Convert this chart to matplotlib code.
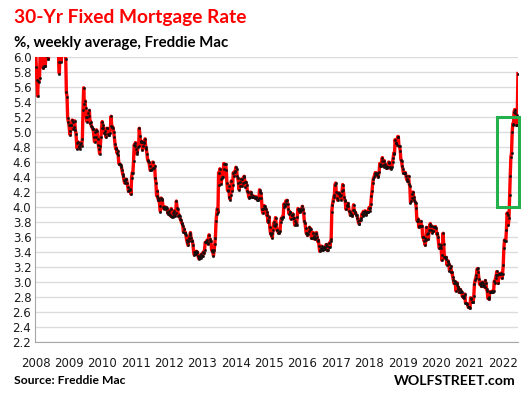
import pandas as pd
import numpy as np
import matplotlib
matplotlib.use("Agg")
import matplotlib.pyplot as plt
import matplotlib.dates as mdates
from matplotlib.patches import Rectangle

# ==========================================================
# Data: Freddie Mac 30-yr fixed, weekly average (%)
# ==========================================================

rate_2008 = [6.07, 5.87, 5.69, 5.48, 5.68, 5.67, 5.72, 6.04, 6.24, 6.03, 6.13, 5.87, 5.85,
             5.88, 5.88, 5.88, 6.03, 6.06, 6.01, 5.98, 5.98, 6.08, 6.09, 6.32, 6.42, 6.45,
             6.35, 6.37, 6.26, 6.63, 6.52, 6.52, 6.52, 6.47, 6.40, 6.35, 5.93, 5.78, 6.09,
             6.10, 5.94, 6.46, 6.04, 6.10, 6.20, 6.14, 6.04, 5.97, 5.53, 5.47, 5.19, 5.14]
rate_2009 = [5.10, 5.01, 4.96, 5.10, 5.10, 5.16, 5.14, 5.04, 5.07, 5.15, 5.03, 4.98, 4.85,
             4.78, 4.87, 4.82, 4.80, 4.78, 4.84, 4.86, 4.82, 4.91, 5.29, 5.59, 5.38, 5.42,
             5.32, 5.20, 5.14, 5.20, 5.25, 5.22, 5.29, 5.12, 5.14, 5.08, 5.07, 5.04, 5.04,
             4.94, 4.87, 5.00, 4.94, 5.03, 5.01, 4.91, 4.83, 4.78, 4.71, 4.81, 4.94, 5.05, 5.14]
rate_2010 = [5.09, 5.06, 4.99, 4.98, 5.01, 4.93, 5.05, 5.05, 4.97, 4.96, 4.96, 4.99,
             5.08, 5.21, 5.07, 5.07, 5.06, 5.00, 4.93, 4.84, 4.78, 4.79, 4.72, 4.75, 4.69,
             4.58, 4.57, 4.57, 4.56, 4.54, 4.49, 4.44, 4.42, 4.36, 4.32, 4.35, 4.37, 4.37, 4.32,
             4.27, 4.21, 4.23, 4.23, 4.24, 4.17, 4.39, 4.46, 4.46, 4.61, 4.83, 4.81, 4.86]
rate_2011 = [4.77, 4.71, 4.74, 4.80, 4.81, 5.05, 4.95, 4.87, 4.88, 4.87, 4.76, 4.81, 4.86,
             4.87, 4.91, 4.80, 4.78, 4.71, 4.63, 4.61, 4.60, 4.55, 4.49, 4.50, 4.50, 4.51,
             4.60, 4.52, 4.52, 4.55, 4.39, 4.32, 4.15, 4.22, 4.12, 4.09, 4.09, 4.01, 3.94,
             4.12, 4.11, 4.10, 4.00, 3.98, 4.00, 3.99, 4.00, 3.98, 3.99, 3.94, 3.91, 3.95]
rate_2012 = [3.91, 3.89, 3.88, 3.98, 3.87, 3.87, 3.92, 3.95, 3.90, 3.88, 3.92, 4.08, 3.99,
             3.98, 3.88, 3.90, 3.88, 3.84, 3.83, 3.79, 3.78, 3.75, 3.67, 3.71, 3.66, 3.66,
             3.62, 3.56, 3.53, 3.49, 3.55, 3.59, 3.62, 3.66, 3.59, 3.55, 3.55, 3.49, 3.40,
             3.36, 3.39, 3.37, 3.41, 3.40, 3.40, 3.34, 3.31, 3.32, 3.34, 3.32, 3.37, 3.35]
rate_2013 = [3.34, 3.40, 3.38, 3.42, 3.53, 3.53, 3.53, 3.56, 3.51, 3.52, 3.63, 3.54, 3.57,
             3.54, 3.43, 3.41, 3.40, 3.35, 3.42, 3.51, 3.59, 3.81, 3.91, 3.98, 3.93, 4.46,
             4.29, 4.51, 4.37, 4.31, 4.39, 4.40, 4.40, 4.58, 4.51, 4.57, 4.57, 4.50, 4.32,
             4.22, 4.23, 4.28, 4.13, 4.10, 4.16, 4.35, 4.22, 4.29, 4.46, 4.42, 4.47, 4.48]
rate_2014 = [4.53, 4.51, 4.41, 4.39, 4.32, 4.23, 4.28, 4.33, 4.37, 4.28, 4.37, 4.32, 4.40,
             4.41, 4.34, 4.27, 4.33, 4.29, 4.21, 4.20, 4.14, 4.12, 4.14, 4.20, 4.17, 4.14,
             4.13, 4.15, 4.13, 4.13, 4.12, 4.14, 4.12, 4.10, 4.10, 4.10, 4.12, 4.23, 4.20,
             4.19, 4.12, 3.97, 3.92, 3.98, 4.02, 4.01, 3.99, 3.97, 3.89, 3.93, 3.80, 3.83]
rate_2015 = [3.87, 3.73, 3.66, 3.63, 3.66, 3.59, 3.69, 3.76, 3.80, 3.75, 3.86, 3.78, 3.69,
             3.70, 3.66, 3.67, 3.65, 3.68, 3.80, 3.85, 3.84, 3.87, 3.87, 4.04, 4.00, 4.02,
             4.08, 4.04, 4.09, 4.04, 3.98, 3.91, 3.94, 3.93, 3.84, 3.89, 3.90, 3.91, 3.86,
             3.85, 3.76, 3.82, 3.79, 3.76, 3.87, 3.98, 3.97, 3.95, 3.93, 3.95, 3.97, 3.96, 4.01]
rate_2016 = [3.97, 3.92, 3.81, 3.79, 3.72, 3.65, 3.65, 3.62, 3.64, 3.68, 3.73, 3.71, 3.71,
             3.59, 3.58, 3.59, 3.66, 3.61, 3.57, 3.58, 3.64, 3.66, 3.60, 3.54, 3.56, 3.48,
             3.41, 3.42, 3.45, 3.48, 3.43, 3.45, 3.43, 3.46, 3.46, 3.44, 3.50, 3.48, 3.42,
             3.42, 3.47, 3.52, 3.47, 3.54, 3.57, 3.94, 4.03, 4.08, 4.13, 4.16, 4.30, 4.32]
rate_2017 = [4.20, 4.12, 4.09, 4.19, 4.19, 4.17, 4.15, 4.16, 4.10, 4.21, 4.30, 4.23, 4.14,
             4.10, 4.08, 3.97, 4.03, 4.02, 4.05, 4.02, 3.95, 3.94, 3.89, 3.91, 3.90, 3.88,
             3.96, 4.03, 3.96, 3.92, 3.93, 3.90, 3.89, 3.86, 3.82, 3.78, 3.78, 3.83, 3.83,
             3.85, 3.91, 3.88, 3.94, 3.94, 3.90, 3.95, 3.92, 3.90, 3.94, 3.93, 3.94, 3.99]
rate_2018 = [3.95, 3.99, 4.04, 4.15, 4.22, 4.32, 4.38, 4.40, 4.43, 4.46, 4.44, 4.45, 4.44,
             4.40, 4.42, 4.47, 4.58, 4.55, 4.55, 4.61, 4.66, 4.56, 4.54, 4.62, 4.57, 4.55,
             4.52, 4.53, 4.52, 4.54, 4.60, 4.59, 4.53, 4.51, 4.52, 4.54, 4.60, 4.65, 4.72,
             4.71, 4.90, 4.85, 4.86, 4.83, 4.94, 4.94, 4.81, 4.81, 4.75, 4.63, 4.62, 4.55]
rate_2019 = [4.51, 4.45, 4.45, 4.45, 4.46, 4.41, 4.37, 4.35, 4.35, 4.41, 4.31, 4.28, 4.06,
             4.08, 4.12, 4.17, 4.20, 4.14, 4.10, 4.07, 4.06, 3.99, 3.82, 3.82, 3.84, 3.73,
             3.75, 3.75, 3.81, 3.75, 3.75, 3.60, 3.60, 3.55, 3.58, 3.49, 3.56, 3.73, 3.64,
             3.65, 3.57, 3.69, 3.75, 3.78, 3.69, 3.75, 3.66, 3.68, 3.68, 3.73, 3.73, 3.74]
rate_2020 = [3.72, 3.64, 3.65, 3.60, 3.51, 3.45, 3.47, 3.49, 3.45, 3.29, 3.36, 3.65, 3.50,
             3.33, 3.33, 3.31, 3.33, 3.23, 3.26, 3.28, 3.24, 3.15, 3.18, 3.21, 3.13, 3.13,
             3.07, 3.03, 2.98, 3.01, 2.99, 2.88, 2.96, 2.99, 2.91, 2.93, 2.86, 2.87, 2.90,
             2.88, 2.87, 2.81, 2.80, 2.81, 2.78, 2.84, 2.72, 2.72, 2.71, 2.71, 2.67, 2.66, 2.67]
rate_2021 = [2.65, 2.79, 2.77, 2.73, 2.73, 2.73, 2.81, 2.97, 3.02, 3.05, 3.09, 3.17,
             3.18, 3.13, 3.04, 2.97, 2.98, 2.96, 2.94, 3.00, 2.95, 2.99, 2.96, 2.93, 3.02,
             2.98, 2.90, 2.88, 2.78, 2.80, 2.77, 2.87, 2.86, 2.87, 2.87, 2.88, 2.86, 2.88, 3.01,
             2.99, 3.05, 3.09, 3.14, 3.09, 2.98, 3.10, 3.10, 3.11, 3.10, 3.12, 3.05, 3.11]
rate_2022 = [3.22, 3.45, 3.56, 3.55, 3.55, 3.69, 3.92, 3.89, 3.76, 3.85, 4.16, 4.42, 4.67,
             4.72, 5.00, 5.11, 5.10, 5.27, 5.30, 5.25, 5.10, 5.09, 5.23, 5.78]

rates = (rate_2008 + rate_2009 + rate_2010 + rate_2011 + rate_2012 + rate_2013 + rate_2014
         + rate_2015 + rate_2016 + rate_2017 + rate_2018 + rate_2019 + rate_2020 + rate_2021
         + rate_2022)

# weekly Thursdays, first release of 2008
weeks = pd.date_range("2008-01-03", periods=len(rates), freq="7D")

year_labels = [str(y) for y in range(2008, 2023)]
y_ticks = [2.2, 2.4, 2.6, 2.8, 3.0, 3.2, 3.4, 3.6, 3.8, 4.0, 4.2, 4.4, 4.6, 4.8, 5.0,
           5.2, 5.4, 5.6, 5.8, 6.0]

# ==========================================================
# Plot
# ==========================================================

fig = plt.figure(figsize=(5.25, 3.96), dpi=100)
ax = fig.add_axes([0.0676, 0.1364, 0.9191, 0.7196])

ax.plot(weeks, rates, color="#FF0000", linewidth=2.4, zorder=3,
        marker="o", markersize=1.8, markerfacecolor="#111111",
        markeredgecolor="#111111", markeredgewidth=0.2)

ax.set_ylim(2.2, 6.0)
ax.set_xlim(pd.Timestamp("2008-01-01"), weeks[-1] + pd.Timedelta(days=1))
ax.set_yticks(y_ticks)
ax.set_yticklabels([f"{v:.1f}" for v in y_ticks])
ax.set_xticks([pd.Timestamp(f"{y}-01-01") for y in year_labels])
ax.set_xticklabels(year_labels)

ax.grid(axis="y", color="#DCDCDC", linewidth=1.0, zorder=0)
ax.set_axisbelow(True)
for side in ["top", "right"]:
    ax.spines[side].set_visible(False)
ax.spines["left"].set_color("#A6A6A6")
ax.spines["bottom"].set_color("#A6A6A6")
ax.tick_params(length=0, labelsize=8.5, colors="#1a1a1a")
ax.tick_params(axis="x", pad=11)
ax.tick_params(axis="y", pad=3)

# green box on the 2022 surge
box = Rectangle((mdates.date2num(pd.Timestamp("2021-10-25")), 4.0),
                mdates.date2num(pd.Timestamp("2022-06-27")) - mdates.date2num(pd.Timestamp("2021-10-25")),
                1.2, fill=False, edgecolor="#22B14C", linewidth=2.2, zorder=4, clip_on=False)
ax.add_patch(box)

# texts
fig.text(0.026, 0.955, "30-Yr Fixed Mortgage Rate", color="#FF0000", fontsize=13.8,
         fontweight="bold", family="Lato", va="center", ha="left")
fig.text(0.026, 0.891, "%, weekly average, Freddie Mac", color="black", fontsize=10.8,
         fontweight="bold", family="Lato", va="center", ha="left")
fig.text(0.026, 0.04, "Source: Freddie Mac", color="black", fontsize=8.7,
         fontweight="bold", family="Lato", va="center", ha="left")
fig.text(0.982, 0.038, "WOLFSTREET.com", color="black", fontsize=10.2,
         fontweight="bold", family="Lato", va="center", ha="right")

plt.savefig("out.png", dpi=100)
